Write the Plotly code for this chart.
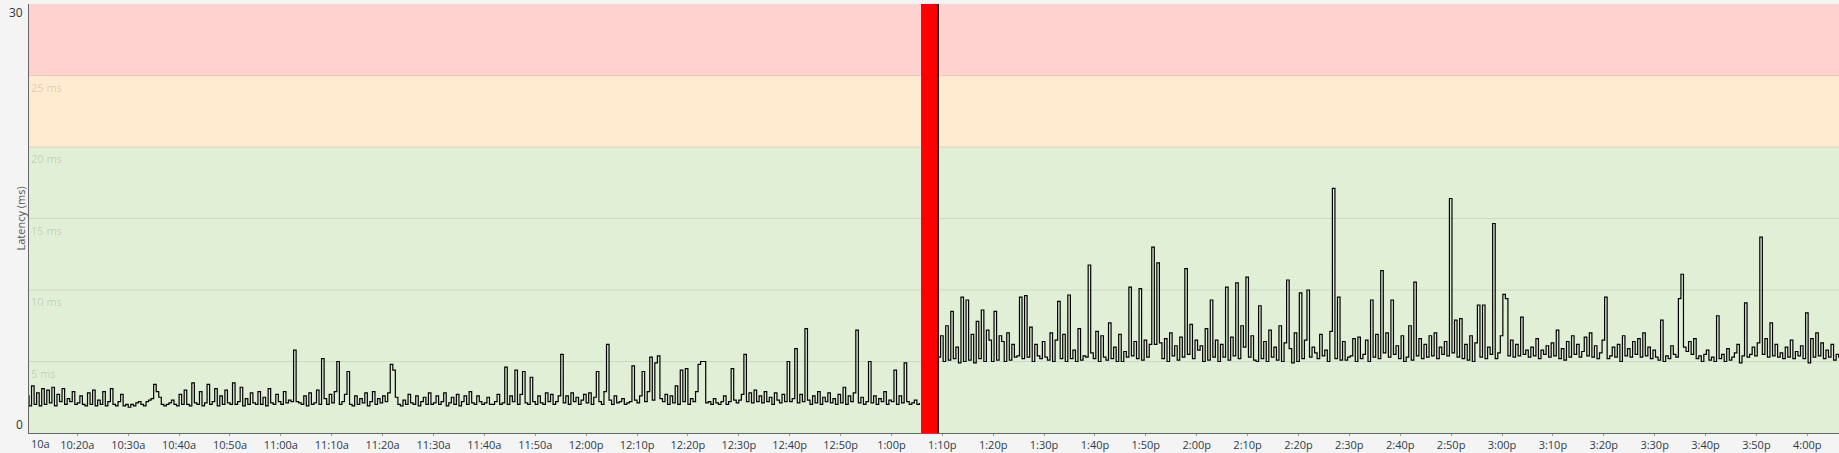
import pandas as pd
import plotly.graph_objects as go

# ---------------- data ----------------
day = "2024-01-01 "
seg1_start = day + "10:10:00"
seg2_start = day + "13:09:10"
step = "30s"

# latency (ms), 30-second samples, 10:10 -> 13:05:30
latency_before = [
    2.6, 1.9, 3.3, 2.0, 2.8, 1.9, 3.1, 2.0, 3.0, 2.1, 3.2, 1.9, 2.7, 2.2, 3.1, 2.0, 2.4, 2.2, 2.9, 2.0,
    2.1, 2.6, 2.0, 1.9, 2.8, 2.0, 3.0, 1.9, 2.3, 2.0, 2.9, 1.9, 2.2, 3.1, 2.0, 1.9, 2.2, 2.7, 1.9, 2.0,
    1.8, 2.0, 1.9, 2.1, 2.2, 2.0, 1.9, 2.2, 2.3, 2.4, 3.4, 2.9, 2.5, 2.0, 1.9, 2.0, 2.1, 2.3, 2.0, 1.9,
    2.7, 2.0, 3.0, 2.0, 1.9, 3.5, 2.1, 2.0, 2.9, 1.9, 2.1, 3.4, 2.0, 2.2, 3.1, 1.9, 2.6, 2.0, 3.0, 2.1,
    2.0, 3.5, 2.0, 2.2, 3.2, 1.9, 2.4, 2.0, 2.8, 2.1, 2.0, 2.9, 2.0, 2.5, 1.9, 3.1, 2.1, 2.0, 2.7, 2.2,
    2.0, 2.9, 2.1, 2.3, 2.2, 5.8, 2.2, 2.1, 2.0, 2.6, 1.9, 2.8, 2.0, 2.1, 3.0, 2.0, 5.2, 2.4, 2.0, 2.7,
    2.1, 2.9, 5.0, 2.0, 2.2, 2.7, 4.3, 2.0, 1.9, 2.6, 2.0, 2.4, 2.1, 2.8, 1.9, 2.2, 2.9, 2.0, 2.4, 2.1,
    2.6, 2.2, 2.8, 4.8, 4.4, 2.5, 2.0, 1.9, 2.3, 2.0, 2.7, 2.1, 2.0, 2.6, 1.9, 2.2, 2.5, 2.0, 2.8, 2.0,
    2.1, 2.6, 2.0, 2.2, 2.8, 1.9, 2.1, 2.5, 2.0, 2.7, 1.9, 2.2, 2.6, 2.0, 2.9, 2.1, 2.0, 2.6, 2.2, 2.0,
    2.1, 2.5, 2.0, 2.0, 2.2, 2.7, 2.0, 2.1, 4.6, 2.0, 2.6, 2.2, 4.4, 2.0, 2.7, 4.3, 2.1, 2.0, 3.9, 2.2,
    2.0, 2.6, 2.1, 2.0, 2.8, 2.2, 2.7, 2.0, 2.2, 2.6, 5.5, 2.1, 2.6, 2.0, 2.8, 2.2, 2.5, 2.0, 2.3, 2.7,
    2.1, 2.8, 2.0, 2.5, 4.3, 2.2, 2.0, 2.9, 6.2, 2.3, 2.0, 2.6, 2.1, 2.2, 2.4, 2.0, 2.1, 2.2, 4.7, 2.3,
    2.1, 2.6, 4.3, 2.2, 2.9, 5.3, 2.3, 4.9, 5.4, 2.4, 2.2, 2.7, 2.0, 2.6, 2.1, 3.3, 2.0, 4.4, 2.2, 4.5,
    2.0, 2.4, 2.2, 2.9, 4.8, 5.0, 5.0, 2.1, 2.2, 2.0, 2.4, 2.1, 2.0, 2.2, 2.6, 2.0, 2.2, 4.5, 2.3, 2.1,
    2.3, 2.7, 5.5, 2.2, 2.8, 2.1, 3.0, 2.2, 2.6, 2.1, 2.9, 2.2, 2.5, 2.0, 2.8, 2.3, 2.1, 2.7, 2.2, 5.0,
    2.2, 2.4, 5.9, 2.1, 2.7, 2.2, 7.3, 2.3, 2.0, 2.6, 2.1, 2.9, 2.0, 2.5, 2.2, 2.8, 2.1, 2.4, 2.0, 2.7,
    2.1, 3.2, 2.0, 2.6, 2.2, 2.8, 7.2, 2.1, 2.5, 2.0, 2.2, 5.0, 2.1, 2.6, 2.0, 2.4, 2.2, 2.9, 2.0, 2.3,
    2.2, 4.4, 2.0, 2.6, 2.1, 4.9, 2.2, 2.0, 2.1, 2.3, 2.0, 2.1,
]

# latency (ms), 30-second samples, 13:09:10 -> 16:06:40
latency_after = [
    5.3, 6.8, 5.0, 7.5, 5.1, 8.5, 5.2, 6.0, 4.9, 9.5, 5.0, 9.3, 5.1, 6.9, 4.9, 7.8, 5.2, 8.6, 5.0, 7.2,
    6.5, 5.0, 8.5, 5.1, 6.8, 6.4, 5.0, 7.0, 5.1, 6.2, 5.3, 5.4, 9.5, 5.2, 9.6, 5.3, 7.4, 5.0, 6.2, 5.4,
    5.2, 6.4, 5.3, 5.1, 7.0, 5.0, 6.5, 9.2, 5.2, 6.9, 5.0, 9.65, 5.2, 5.8, 5.0, 7.3, 5.1, 5.4, 5.3, 11.75,
    5.6, 5.2, 7.1, 5.0, 6.8, 5.3, 5.1, 7.7, 5.2, 6.0, 5.0, 6.9, 5.0, 5.7, 5.3, 10.2, 5.4, 6.4, 5.2, 10.1,
    5.1, 6.5, 5.3, 6.2, 13.0, 6.2, 11.9, 6.3, 5.2, 6.6, 5.0, 7.0, 5.4, 6.1, 5.1, 6.7, 5.3, 11.5, 5.5, 7.6,
    5.2, 6.5, 5.8, 6.1, 5.0, 7.3, 5.1, 9.3, 5.3, 6.5, 5.0, 6.2, 5.3, 10.2, 5.1, 6.7, 5.4, 10.5, 5.2, 7.5,
    6.0, 10.9, 5.3, 6.8, 5.1, 5.0, 8.9, 5.2, 6.4, 5.0, 7.2, 5.3, 6.0, 5.1, 7.5, 5.0, 6.3, 10.7, 5.9, 4.9,
    7.0, 5.0, 9.8, 5.2, 6.5, 10.0, 5.3, 6.0, 5.6, 5.2, 6.9, 5.4, 5.8, 5.0, 7.1, 17.1, 5.2, 9.5, 5.1, 6.4,
    5.1, 5.3, 5.4, 6.6, 5.0, 6.7, 5.2, 5.5, 6.5, 5.0, 9.3, 5.3, 6.9, 5.2, 11.35, 5.6, 7.0, 5.3, 9.3, 5.5,
    6.1, 5.2, 6.8, 5.0, 5.3, 7.5, 5.1, 10.55, 5.4, 6.6, 5.2, 6.2, 5.3, 6.8, 5.4, 7.0, 5.2, 6.0, 5.5, 6.4,
    5.4, 16.4, 5.6, 7.9, 5.3, 8.0, 5.2, 6.2, 5.1, 6.8, 5.0, 6.3, 8.95, 5.3, 8.95, 5.2, 6.0, 5.5, 14.65, 5.2,
    5.6, 6.8, 9.7, 9.4, 5.4, 6.5, 5.3, 6.2, 5.4, 8.1, 5.5, 5.8, 5.3, 6.0, 5.4, 6.6, 5.2, 5.8, 5.5, 6.1,
    5.3, 6.3, 5.4, 7.2, 5.2, 5.9, 5.1, 6.4, 5.3, 6.8, 5.5, 6.2, 5.3, 5.7, 6.7, 5.4, 7.0, 5.3, 6.1, 5.2,
    5.6, 6.5, 9.5, 5.2, 5.4, 6.0, 5.3, 6.2, 5.0, 6.8, 5.4, 5.9, 5.3, 6.4, 5.5, 6.6, 5.3, 7.0, 5.4, 6.0,
    5.2, 5.8, 5.3, 5.1, 7.9, 5.0, 5.4, 5.2, 6.1, 5.5, 5.3, 9.4, 11.1, 6.0, 5.7, 6.4, 5.5, 6.6, 5.2, 5.4,
    5.0, 5.5, 5.8, 5.1, 5.3, 5.0, 8.2, 5.2, 5.5, 5.0, 5.9, 5.1, 5.3, 5.6, 6.2, 4.9, 5.4, 9.1, 5.3, 5.5,
    6.0, 5.4, 6.3, 13.7, 5.5, 6.6, 5.3, 7.7, 5.4, 6.2, 5.3, 5.6, 5.2, 6.0, 5.3, 6.5, 5.2, 5.7, 5.4, 6.1,
    5.2, 8.4, 4.9, 6.6, 5.3, 7.0, 5.4, 6.3, 5.2, 5.8, 5.3, 6.2, 5.1, 5.5, 5.3, 8.9,
]

tick_start = day + "10:20"
tick_labels = ["10:20a", "10:30a", "10:40a", "10:50a", "11:00a", "11:10a", "11:20a", "11:30a",
               "11:40a", "11:50a", "12:00p", "12:10p", "12:20p", "12:30p", "12:40p", "12:50p",
               "1:00p", "1:10p", "1:20p", "1:30p", "1:40p", "1:50p", "2:00p", "2:10p", "2:20p",
               "2:30p", "2:40p", "2:50p", "3:00p", "3:10p", "3:20p", "3:30p", "3:40p", "3:50p", "4:00p"]
first_label = "10a"

bands = [(0, 20, "#e0efd6"), (20, 25, "#ffebcf"), (25, 30, "#ffd1cf")]
grid_values = [5, 10, 15, 20, 25]
grid_labels = ["5 ms", "10 ms", "15 ms", "20 ms", "25 ms"]

x_range = [day + "10:10:30", day + "16:06:14"]
outage = (day + "13:05:49", day + "13:09:09")
marker_time = day + "13:09:12"

# ---------------- figure ----------------
t1 = pd.date_range(seg1_start, periods=len(latency_before), freq=step)
t2 = pd.date_range(seg2_start, periods=len(latency_after), freq=step)
tick_pos = pd.date_range(tick_start, periods=len(tick_labels), freq="10min")

fig = go.Figure()
line_style = dict(color="#000000", width=1.2, shape="hv")
fig.add_trace(go.Scatter(x=t1, y=latency_before, mode="lines", line=line_style, showlegend=False))
fig.add_trace(go.Scatter(x=t2, y=latency_after, mode="lines", line=line_style, showlegend=False))

shapes = []
for y0, y1, col in bands:
    shapes.append(dict(type="rect", xref="paper", yref="y", x0=0, x1=1, y0=y0, y1=y1,
                       fillcolor=col, line=dict(width=0), layer="below"))
for v in grid_values:
    shapes.append(dict(type="line", xref="paper", yref="y", x0=0, x1=1, y0=v, y1=v,
                       line=dict(color="rgba(0,0,0,0.09)", width=1), layer="below"))
shapes.append(dict(type="rect", xref="x", yref="paper", x0=outage[0], x1=outage[1], y0=0, y1=1,
                   fillcolor="#ff0000", line=dict(width=0), layer="above"))
shapes.append(dict(type="line", xref="x", yref="paper", x0=marker_time, x1=marker_time, y0=0, y1=1,
                   line=dict(color="#222222", width=1.5), layer="above"))

annotations = []
for v, lab in zip(grid_values, grid_labels):
    annotations.append(dict(xref="paper", yref="y", x=0, y=v, text=lab, showarrow=False,
                            xanchor="left", yanchor="top", xshift=0, yshift=-2,
                            font=dict(size=11, color="rgba(0,0,0,0.16)", family="Open Sans")))
annotations.append(dict(xref="paper", yref="y", x=0, y=30, text="30", showarrow=False,
                        xanchor="right", yanchor="top", xshift=-4, yshift=2,
                        font=dict(size=12, color="#333333", family="Open Sans")))
annotations.append(dict(xref="paper", yref="y", x=0, y=0, text="0", showarrow=False,
                        xanchor="right", yanchor="bottom", xshift=-4, yshift=-2,
                        font=dict(size=12, color="#333333", family="Open Sans")))
annotations.append(dict(xref="paper", yref="paper", x=0, y=0.5, text="Latency (ms)", showarrow=False,
                        textangle=-90, xanchor="center", yanchor="middle", xshift=-9,
                        font=dict(size=11, color="#555555", family="Open Sans")))
annotations.append(dict(xref="paper", yref="paper", x=0, y=0, text=first_label, showarrow=False,
                        xanchor="left", yanchor="top", xshift=0, yshift=-1,
                        font=dict(size=11, color="#2e3b4c", family="Open Sans")))

fig.update_layout(
    width=1839, height=453,
    margin=dict(l=29, r=0, t=4, b=20, autoexpand=False),
    paper_bgcolor="#f4f4f4", plot_bgcolor="#e0efd6",
    shapes=shapes, annotations=annotations,
    xaxis=dict(range=x_range, type="date", tickvals=tick_pos, ticktext=tick_labels,
               showgrid=False, zeroline=False, showline=True, linecolor="#666666", linewidth=1,
               ticks="outside", ticklen=2, tickcolor="#999999",
               tickfont=dict(size=11, color="#2e3b4c", family="Open Sans"), automargin=False),
    yaxis=dict(range=[0, 30], showgrid=False, zeroline=False, showticklabels=False,
               showline=True, linecolor="#666666", linewidth=1, ticks="", automargin=False),
)

fig.write_html(
    "out.html",
    config={"displayModeBar": False},
    post_script="document.body.style.margin='0';document.body.style.overflow='hidden';"
                "document.documentElement.style.background='#f4f4f4';",
)
